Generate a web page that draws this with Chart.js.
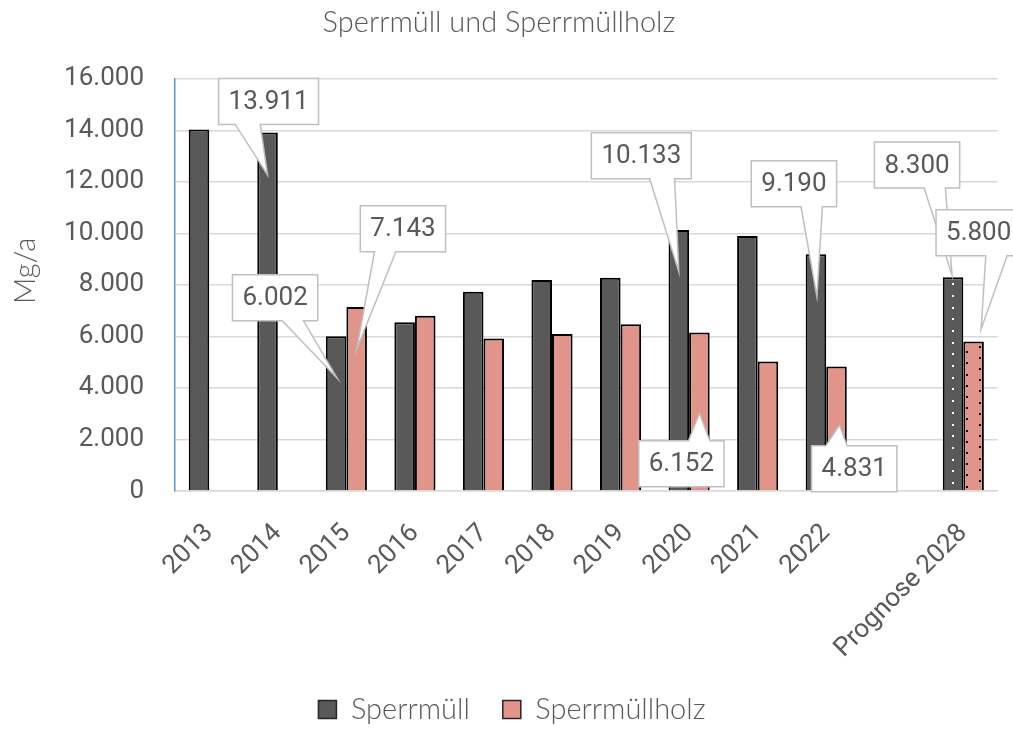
<!DOCTYPE html>
<html>
<head>
<meta charset="utf-8">
<script src="https://cdn.jsdelivr.net/npm/chart.js@4.4.0/dist/chart.umd.min.js"></script>
<style>
html,body{margin:0;padding:0;background:#ffffff;}
#wrap{width:1013px;height:731px;position:relative;}
canvas{display:block;}
</style>
</head>
<body>
<div id="wrap"><canvas id="c" width="1013" height="731"></canvas></div>
<script>
// ---------- data ----------
const categories = ['2013','2014','2015','2016','2017','2018','2019','2020','2021','2022','','Prognose 2028'];
const sperrmuell = [14030, 13911, 6002, 6550, 7730, 8195, 8280, 10133, 9900, 9190, null, 8300];
const sperrmuellholz = [null, null, 7143, 6800, 5915, 6090, 6475, 6152, 5025, 4831, null, 5800];
const seriesNames = ['Sperrmüll', 'Sperrmüllholz'];
const yTickValues = [0, 2000, 4000, 6000, 8000, 10000, 12000, 14000, 16000];
const chartTitle = 'Sperrmüll und Sperrmüllholz';
const yAxisTitle = 'Mg/a';
const forecastIndex = 11;

// callout layout (which bars are labelled, and where the label box sits relative to the pointer tip)
const callouts = [
  {ds:0, idx:1,  tipFrac:0.882, tipDx:0,   dx:1,    dy:-73.5},
  {ds:0, idx:2,  tipFrac:0.73,  tipDx:1,   dx:-62,  dy:-80.3},
  {ds:1, idx:2,  tipFrac:0.77,  tipDx:0,   dx:46.3, dy:-120.6},
  {ds:0, idx:7,  tipFrac:0.84,  tipDx:0,   dx:-37.5,dy:-116},
  {ds:1, idx:7,  tipFrac:0.49,  tipDx:0,   dx:-18,  dy:50.4},
  {ds:0, idx:9,  tipFrac:0.82,  tipDx:1,   dx:-23,  dy:-113},
  {ds:1, idx:9,  tipFrac:0.53,  tipDx:3,   dx:14.7, dy:43.8},
  {ds:0, idx:11, tipFrac:1.01,  tipDx:-1,  dx:-35,  dy:-110},
  {ds:1, idx:11, tipFrac:1.083, tipDx:7.5, dx:-2.4, dy:-96.5}
];

// ---------- styles ----------
const DARK = '#595959';
const PINK = '#E0948A';
const TXT = '#595959';
const GRID = '#D9D9D9';
const NUMFONT = 'Roboto';
const TEXTFONT = 'Lato';

function fmt(v){
  return String(Math.round(v)).replace(/\B(?=(\d{3})+(?!\d))/g, '.');
}

const seriesData = [sperrmuell, sperrmuellholz];

function wedgePath(ctx, l, t, w, h, tx, ty){
  const r = l + w, b = t + h;
  const hc = l + w/2, vc = t + h/2;
  const dxPos = tx - hc, dyPos = ty - vc;
  const dq = dxPos * h / w;
  const dz = Math.abs(dyPos) - Math.abs(dq);
  const x1 = l + w * (dxPos > 0 ? 7 : 2) / 12;
  const x2 = l + w * (dxPos > 0 ? 10 : 5) / 12;
  const y1 = t + h * (dyPos > 0 ? 7 : 2) / 12;
  const y2 = t + h * (dyPos > 0 ? 10 : 5) / 12;
  const xl = dz > 0 ? l : (dxPos > 0 ? l : tx);
  const xt = dz > 0 ? (dyPos > 0 ? x1 : tx) : x1;
  const xr = dz > 0 ? r : (dxPos > 0 ? tx : r);
  const xb = dz > 0 ? (dyPos > 0 ? tx : x1) : x1;
  const yl = dz > 0 ? y1 : (dxPos > 0 ? y1 : ty);
  const yt = dz > 0 ? (dyPos > 0 ? t : ty) : t;
  const yr = dz > 0 ? y1 : (dxPos > 0 ? ty : y1);
  const yb = dz > 0 ? (dyPos > 0 ? ty : b) : b;
  ctx.beginPath();
  ctx.moveTo(l, t);
  ctx.lineTo(x1, t); ctx.lineTo(xt, yt); ctx.lineTo(x2, t);
  ctx.lineTo(r, t);
  ctx.lineTo(r, y1); ctx.lineTo(xr, yr); ctx.lineTo(r, y2);
  ctx.lineTo(r, b);
  ctx.lineTo(x2, b); ctx.lineTo(xb, yb); ctx.lineTo(x1, b);
  ctx.lineTo(l, b);
  ctx.lineTo(l, y2); ctx.lineTo(xl, yl); ctx.lineTo(l, y1);
  ctx.closePath();
}

const forecastPattern = {
  id: 'forecastPattern',
  afterDatasetsDraw(chart){
    const ctx = chart.ctx;
    ctx.save();
    const b0 = chart.getDatasetMeta(0).data[forecastIndex];
    if (b0) {
      ctx.fillStyle = '#FFFFFF';
      for (let y = b0.y + 6; y < b0.base - 2; y += 11.7) {
        ctx.fillRect(Math.round(b0.x) - 1, Math.round(y), 2, 2);
      }
    }
    const b1 = chart.getDatasetMeta(1).data[forecastIndex];
    if (b1) {
      ctx.fillStyle = '#000000';
      for (let y = b1.y + 4; y < b1.base - 2; y += 11.2) {
        ctx.fillRect(Math.round(b1.x + 5), Math.round(y), 2, 2);
      }
      for (let y = b1.y + 9.6; y < b1.base - 2; y += 11.2) {
        ctx.fillRect(Math.round(b1.x - 8), Math.round(y), 2, 2);
      }
    }
    ctx.restore();
  }
};

const calloutPlugin = {
  id: 'callouts',
  afterDatasetsDraw(chart){
    const ctx = chart.ctx;
    const yScale = chart.scales.y;
    ctx.save();
    ctx.font = '400 26px ' + NUMFONT;
    ctx.textAlign = 'center';
    ctx.textBaseline = 'middle';
    callouts.forEach(c => {
      const bar = chart.getDatasetMeta(c.ds).data[c.idx];
      const v = seriesData[c.ds][c.idx];
      if (!bar || v == null) return;
      const tx = bar.x + c.tipDx;
      const ty = yScale.getPixelForValue(v * c.tipFrac);
      const text = fmt(v);
      const w = ctx.measureText(text).width + 20;
      const h = 46;
      const cx = tx + c.dx, cy = ty + c.dy;
      const l = cx - w/2, t = cy - h/2;
      wedgePath(ctx, l, t, w, h, tx, ty);
      ctx.fillStyle = '#FFFFFF';
      ctx.fill();
      ctx.lineWidth = 1.5;
      ctx.strokeStyle = '#BFBFBF';
      ctx.stroke();
      ctx.fillStyle = TXT;
      ctx.fillText(text, cx, cy + 1);
    });
    ctx.restore();
  }
};

// y-axis title placed slightly above the plot centre, as in the source
const yTitlePlugin = {
  id: 'yTitle',
  afterDraw(chart){
    const ctx = chart.ctx;
    const area = chart.chartArea;
    ctx.save();
    ctx.translate(26, (area.top + area.bottom) / 2 - 14);
    ctx.rotate(-Math.PI / 2);
    ctx.font = '300 29px ' + TEXTFONT;
    ctx.fillStyle = TXT;
    ctx.textAlign = 'center';
    ctx.textBaseline = 'middle';
    ctx.fillText(yAxisTitle, 0, 0);
    ctx.restore();
  }
};

const legendShift = {
  id: 'legendShift',
  afterLayout(chart){
    if (chart.legend) { chart.legend.left += 13; chart.legend.right += 13; }
  }
};

const ctx = document.getElementById('c').getContext('2d');
new Chart(ctx, {
  type: 'bar',
  data: {
    labels: categories,
    datasets: [
      {label: seriesNames[0], data: sperrmuell, backgroundColor: DARK, borderColor: '#000000', borderWidth: 2},
      {label: seriesNames[1], data: sperrmuellholz, backgroundColor: PINK, borderColor: '#000000', borderWidth: 2}
    ]
  },
  options: {
    responsive: false,
    animation: false,
    devicePixelRatio: 1,
    categoryPercentage: 0.6,
    barPercentage: 1.0,
    layout: {padding: {top: 0, left: 0, right: 15, bottom: -3}},
    plugins: {
      tooltip: {enabled: false},
      title: {
        display: true,
        text: chartTitle,
        color: TXT,
        font: {family: TEXTFONT, size: 29, weight: '300'},
        padding: {top: 5, bottom: 39}
      },
      legend: {
        position: 'bottom',
        labels: {
          color: TXT,
          font: {family: TEXTFONT, size: 29, weight: '300'},
          boxWidth: 18,
          boxHeight: 18,
          padding: 33,
          generateLabels(chart){
            return chart.data.datasets.map((ds, i) => ({
              text: ds.label,
              fillStyle: ds.backgroundColor,
              strokeStyle: '#262626',
              lineWidth: 1.5,
              fontColor: TXT,
              hidden: false,
              datasetIndex: i
            }));
          }
        }
      }
    },
    scales: {
      x: {
        grid: {display: false, drawTicks: false},
        border: {display: true, color: GRID, width: 1.5},
        ticks: {
          color: TXT,
          font: {family: NUMFONT, size: 26, weight: '400'},
          minRotation: 45, maxRotation: 45,
          autoSkip: false,
          padding: 27
        },
        afterFit(scale){ scale.height = 171; }
      },
      y: {
        min: 0, max: 16000,
        afterBuildTicks(scale){ scale.ticks = yTickValues.map(v => ({value: v})); },
        grid: {color: GRID, lineWidth: 1.5, drawTicks: false},
        border: {display: true, color: '#5B9BD5', width: 1.5},
        ticks: {
          color: TXT,
          font: {family: NUMFONT, size: 26, weight: '400'},
          padding: 31,
          callback: (v) => fmt(v)
        },
        title: {display: false},
        afterFit(scale){ scale.width = 175; }
      }
    }
  },
  plugins: [forecastPattern, calloutPlugin, yTitlePlugin, legendShift]
});
</script>
</body>
</html>
